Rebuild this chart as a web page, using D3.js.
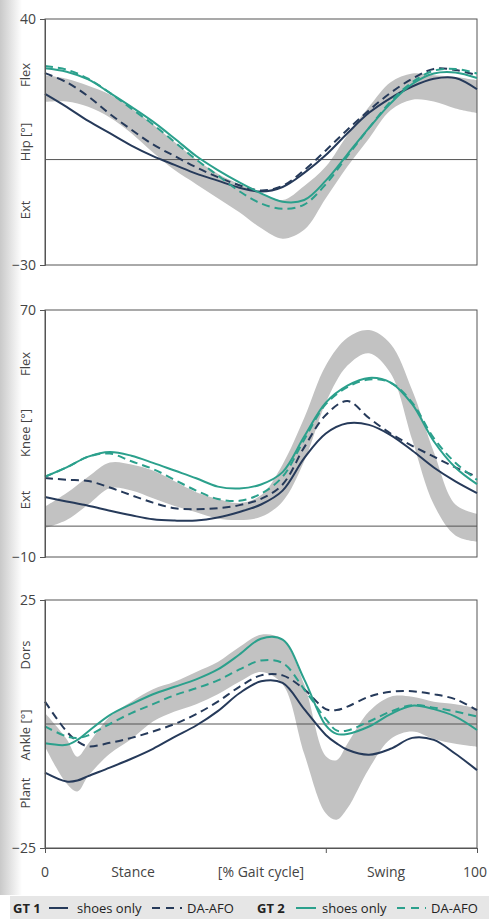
<!DOCTYPE html>
<html>
<head>
<meta charset="utf-8">
<script src="https://cdn.jsdelivr.net/npm/d3@7"></script>
<style>
  body { margin: 0; background: #fff; }
  svg text { font-family: "Open Sans", "Noto Sans", sans-serif; fill: #444; }
</style>
</head>
<body>
<svg id="chart" width="489" height="919"></svg>
<script>
// gait cycle positions (%)
var pct = [0, 5, 10, 15, 20, 25, 30, 35, 40, 45, 50, 55, 60, 65, 70, 75, 80, 85, 90, 95, 100];
var pctAnkle = [0, 5, 7.5, 10, 15, 20, 25, 30, 35, 40, 45, 50, 55, 60, 65, 67.5, 70, 75, 80, 85, 90, 95, 100];

// hip
var hipGT1Shoes = [18.7, 15, 11, 7.5, 4, 1, -1.5, -4, -6, -8, -9.1, -7.8, -3.8, 1.3, 7.5, 13.3, 17.5, 20.8, 23, 23.2, 20];
var hipGT1Afo = [24.6, 22, 18, 13, 8.5, 4.3, 1, -2.2, -5, -7.3, -8.8, -7.5, -3, 2.6, 8.5, 14, 19, 23, 25.8, 25.5, 24];
var hipGT2Shoes = [26, 25, 22.8, 19, 15, 10.8, 6, 1, -3, -6.5, -9.6, -12, -11.5, -6, 1.5, 9, 16, 21.5, 24.5, 24.8, 23.2];
var hipGT2Afo = [26.6, 25.6, 23, 19, 14.5, 10, 5, 0, -4.5, -9, -12.5, -14, -12.8, -7, 1, 9, 16.5, 22, 25.3, 25.8, 24.5];
var hipNormLo = [16.4, 16.5, 15, 12, 7.5, 2, -3, -7, -11, -15, -19.5, -22.5, -20, -11, -2, 6, 14, 17, 16.5, 14.5, 13.2];
var hipNormHi = [24, 23, 21, 18.5, 14.5, 10, 5, 0, -4, -7, -9.5, -11.5, -7.5, -2, 7, 15, 22, 24.5, 24, 23.5, 22.6];

// knee
var kneeGT1Shoes = [9.4, 8, 6.6, 5, 3.5, 2.2, 1.8, 1.8, 2.8, 4.6, 7, 11.5, 22, 30, 33.3, 32.8, 29.5, 24.5, 19, 14.5, 10.7];
var kneeGT1Afo = [15.6, 15, 14.6, 12.5, 10, 7.6, 5.8, 5.5, 5.8, 6.8, 8.8, 13.5, 25.5, 36, 40.5, 35, 30, 26, 22.5, 19, 16];
var kneeGT2Shoes = [16, 19, 22.5, 24, 22.8, 20.5, 18, 15.5, 12.8, 12.2, 13.5, 17.5, 29, 40, 45.5, 48, 46.5, 39.5, 27.5, 19, 13.6];
var kneeGT2Afo = [16, 19, 22.5, 23.5, 21, 18.5, 15, 11.5, 8.8, 8.2, 10.5, 16, 28, 39.5, 45, 47.5, 46.5, 40, 28.5, 20.5, 15];
var kneeNormLo = [-0.6, 2, 7, 12.3, 11.5, 9, 6.5, 4.5, 2.5, 2, 3, 8, 21, 40, 52, 56, 49.5, 28, 7, -3, -5];
var kneeNormHi = [6.3, 10.7, 16, 20.6, 20, 18, 14.5, 11, 8.8, 7.5, 10, 20, 35, 52, 61, 63.5, 59, 44, 24, 7, 4];

// ankle
var ankleGT1Shoes = [-9.8, -11.6, -11.4, -10.5, -8.8, -7, -5, -2.6, -0.3, 2.6, 6.2, 8.6, 8.3, 3, -2.2, -3.9, -5.2, -6.2, -5, -2.8, -3.2, -6, -9.3];
var ankleGT1Afo = [4.5, -1.5, -3.5, -4.5, -3.8, -2.8, -1.5, 0, 2, 4.5, 7.5, 9.8, 9.8, 7, 3, 2.8, 3.5, 5.5, 6.5, 6.6, 6, 5, 2.8];
var ankleGT2Shoes = [-3.9, -4.2, -3.2, -1.5, 1.8, 4, 6, 7.5, 9, 11, 14, 17.2, 17, 9, -0.3, -2, -2, -0.5, 2, 3.7, 3, 1.5, -1.2];
var ankleGT2Afo = [-0.5, -2.5, -2.8, -2.3, 0, 2.2, 4, 5.8, 7.2, 8.8, 11, 12.8, 12.3, 7, 1, -1.3, -1.3, 0.5, 2.5, 3.8, 3.3, 2.5, 1.5];
var ankleNormLo = [-4.6, -12, -13.6, -10.5, -6, -3, 0.5, 2.5, 4, 6, 8.5, 10.5, 8, -6, -18, -19.3, -17, -9, -3, -1.5, -3, -4, -4.6];
var ankleNormHi = [2.2, -3, -6.6, -4, 1.5, 4.5, 7, 8.5, 10.5, 12.5, 15.5, 18, 17, 8, -6.5, -7.3, -4, 2.5, 5.5, 5.5, 4.5, 4, 3.2];

var xTicks = [0, 65, 100];
var xLabels = ["0", "Stance", "[% Gait cycle]", "Swing", "100"];
var xLabPos = [45, 133, 261, 386, 475];

var navy = "#263a5a", teal = "#2ba08c", band = "#c2c2c2";

var panels = [
    {name: "Hip [°]", up: "Flex", down: "Ext", yDomain: [-30, 40], top: 19, bottom: 265, x: pct,
     lo: hipNormLo, hi: hipNormHi, lines: [hipGT1Shoes, hipGT1Afo, hipGT2Shoes, hipGT2Afo],
     labY: [75, 142, 210]},
    {name: "Knee [°]", up: "Flex", down: "Ext", yDomain: [-10, 70], top: 310, bottom: 557, x: pct,
     lo: kneeNormLo, hi: kneeNormHi, lines: [kneeGT1Shoes, kneeGT1Afo, kneeGT2Shoes, kneeGT2Afo],
     labY: [364, 433, 500]},
    {name: "Ankle [°]", up: "Dors", down: "Plant", yDomain: [-25, 25], top: 600, bottom: 848, x: pctAnkle,
     lo: ankleNormLo, hi: ankleNormHi, lines: [ankleGT1Shoes, ankleGT1Afo, ankleGT2Shoes, ankleGT2Afo],
     labY: [655, 735, 793]}
];
var lineStyle = [
    {color: navy, dash: null},
    {color: navy, dash: "8,5"},
    {color: teal, dash: null},
    {color: teal, dash: "8,5"}
];

var svg = d3.select("#chart");

// page shadow on the left edge
var defs = svg.append("defs");
var grad = defs.append("linearGradient").attr("id", "shade");
grad.append("stop").attr("offset", "0%").attr("stop-color", "#c9c9c9");
grad.append("stop").attr("offset", "100%").attr("stop-color", "#ffffff");
svg.append("rect").attr("x", 0).attr("y", 0).attr("width", 22).attr("height", 895).attr("fill", "url(#shade)");

var x = d3.scaleLinear().domain([0, 100]).range([45, 477]);

panels.forEach(function (p, pi) {
    var y = d3.scaleLinear().domain(p.yDomain).range([p.bottom, p.top]);
    var g = svg.append("g");

    var area = d3.area()
        .x(function (d, i) { return x(p.x[i]); })
        .y0(function (d, i) { return y(p.lo[i]); })
        .y1(function (d, i) { return y(p.hi[i]); })
        .curve(d3.curveCatmullRom);
    g.append("path").datum(p.lo).attr("d", area).attr("fill", band);

    // frame and zero line
    g.append("rect").attr("x", x(0)).attr("y", p.top)
        .attr("width", x(100) - x(0)).attr("height", p.bottom - p.top)
        .attr("fill", "none").attr("stroke", "#555").attr("stroke-width", 1);
    g.append("line").attr("x1", x(0)).attr("x2", x(100))
        .attr("y1", y(0)).attr("y2", y(0))
        .attr("stroke", "#555").attr("stroke-width", 1);

    var line = d3.line()
        .x(function (d, i) { return x(p.x[i]); })
        .y(function (d) { return y(d); })
        .curve(d3.curveCatmullRom);
    p.lines.forEach(function (s, k) {
        g.append("path").datum(s).attr("d", line)
            .attr("fill", "none")
            .attr("stroke", lineStyle[k].color)
            .attr("stroke-width", 2)
            .attr("stroke-dasharray", lineStyle[k].dash);
    });

    // y axis: only the end values
    var yAxis = d3.axisLeft(y).tickValues(p.yDomain).tickSize(5).tickPadding(4);
    var ya = g.append("g").attr("transform", "translate(" + x(0) + ",0)").call(yAxis);
    ya.select(".domain").attr("stroke", "#555");
    ya.selectAll(".tick line").attr("stroke", "#555");
    ya.selectAll("text").attr("font-size", 14).attr("fill", "#444")
        .style("font-family", "'Open Sans', sans-serif");

    [p.up, p.name, p.down].forEach(function (t, k) {
        g.append("text")
            .attr("transform", "translate(30," + p.labY[k] + ") rotate(-90)")
            .attr("text-anchor", "middle")
            .attr("font-size", 13)
            .text(t);
    });

    if (pi === 2) {
        var xAxis = d3.axisBottom(x).tickValues(xTicks).tickSize(5).tickFormat("");
        var xa = g.append("g").attr("transform", "translate(0," + p.bottom + ")").call(xAxis);
        xa.select(".domain").attr("stroke", "#555");
        xa.selectAll(".tick line").attr("stroke", "#555");
    }
});

// x labels below the ankle panel
svg.selectAll("text.xlab").data(xLabels).enter().append("text")
    .attr("class", "xlab")
    .attr("x", function (d, i) { return xLabPos[i]; })
    .attr("y", 877)
    .attr("text-anchor", "middle")
    .attr("font-size", 14)
    .text(function (d) { return d; });

// legend strip
svg.append("rect").attr("x", 10).attr("y", 896).attr("width", 479).attr("height", 23).attr("fill", "#e6e6e6");
var leg = svg.append("g").attr("font-size", 13);
function legText(xp, t, bold) {
    leg.append("text").attr("x", xp).attr("y", 913).attr("font-weight", bold ? "bold" : null)
        .style("fill", "#222").text(t);
}
function legLine(x1, x2, c, dash) {
    leg.append("line").attr("x1", x1).attr("x2", x2).attr("y1", 908).attr("y2", 908)
        .attr("stroke", c).attr("stroke-width", 2).attr("stroke-dasharray", dash);
}
legText(13, "GT 1", true);
legLine(49, 68, navy, null);
legText(77, "shoes only", false);
legLine(152, 182, navy, "8,6");
legText(187, "DA-AFO", false);
legText(257, "GT 2", true);
legLine(296, 316, teal, null);
legText(322, "shoes only", false);
legLine(397, 426, teal, "8,6");
legText(431, "DA-AFO", false);
</script>
</body>
</html>
